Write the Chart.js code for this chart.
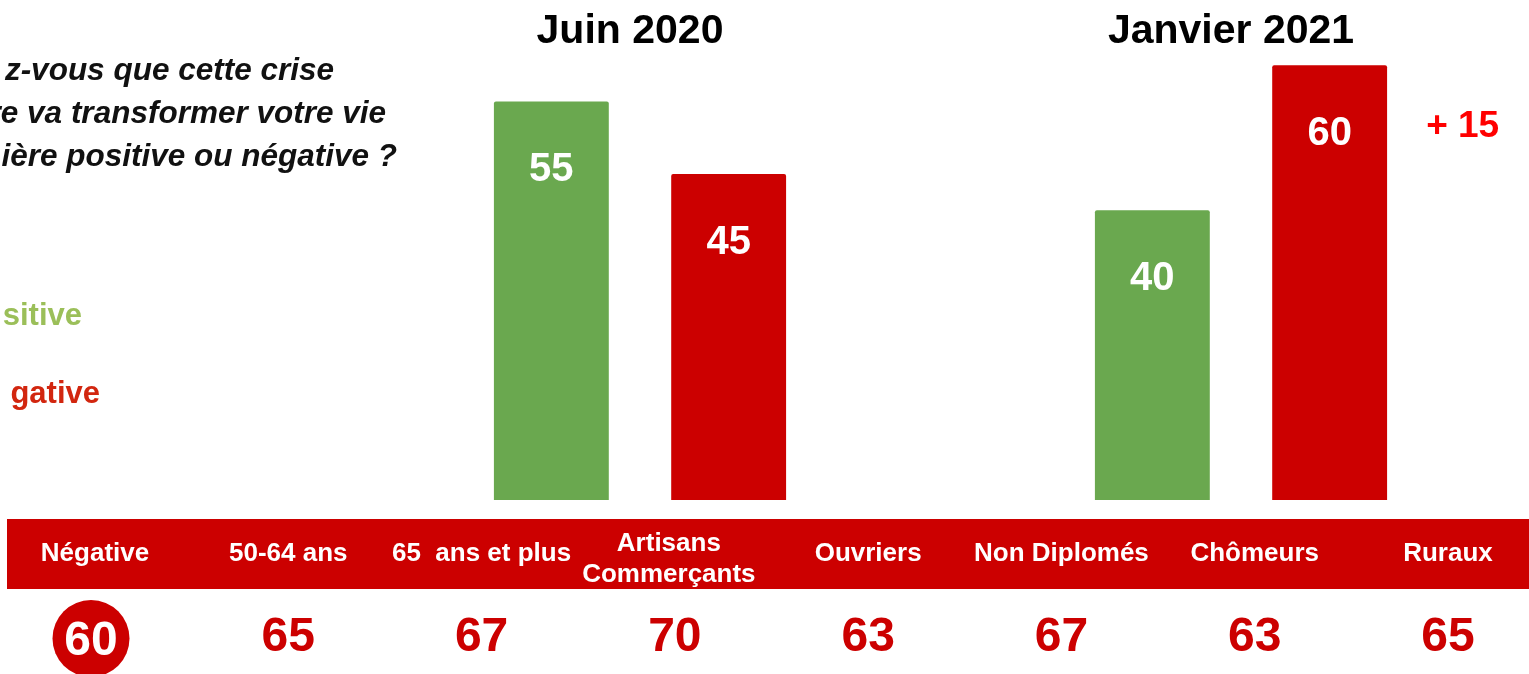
<!DOCTYPE html>
<html>
<head>
<meta charset="utf-8">
<script src="https://cdn.jsdelivr.net/npm/chart.js@4.4.0/dist/chart.umd.min.js"></script>
<style>
    body { margin: 0; background: #fff; width: 1529px; height: 674px; overflow: hidden; position: relative; }
    #top { position: absolute; left: 0; top: 0; }
    #bottom { position: absolute; left: 0; top: 510px; }
</style>
</head>
<body>
<canvas id="top" width="1529" height="510"></canvas>
<canvas id="bottom" width="1529" height="164"></canvas>
<script>
var FONT = '"Liberation Sans", Arial, sans-serif';

// data
var periods = ['Juin 2020', 'Janvier 2021'];
var positive = [55, 40];
var negative = [45, 60];

var groups = ['Négative', '50-64 ans', '65  ans et plus', ['Artisans', 'Commerçants'], 'Ouvriers', 'Non Diplomés', 'Chômeurs', 'Ruraux'];
var groupNeg = [60, 65, 67, 70, 63, 67, 63, 65];

var questionLines = ['z-vous que cette crise', 're va transformer votre vie', 'ière positive ou négative ?'];

var RED = '#cc0000';
var GREEN = '#6aa84f';

// titles, value labels, question and legend words on the top chart
var topTexts = {
    id: 'topTexts',
    afterDatasetsDraw: function(chart) {
        var ctx = chart.ctx;
        var x = chart.scales.x;
        ctx.save();
        ctx.textBaseline = 'alphabetic';

        ctx.fillStyle = '#000';
        ctx.textAlign = 'center';
        ctx.font = 'bold 41px ' + FONT;
        periods.forEach(function(p, i) {
            ctx.fillText(p, x.getPixelForValue(i) - 10, 43);
        });

        ctx.fillStyle = '#fff';
        ctx.font = 'bold 40px ' + FONT;
        chart.data.datasets.forEach(function(ds, di) {
            chart.getDatasetMeta(di).data.forEach(function(bar, i) {
                ctx.fillText(ds.data[i], bar.x, bar.y + 80);
            });
        });

        // change of the negative share between the two waves
        var last = chart.getDatasetMeta(1).data[1];
        ctx.fillStyle = '#ff0000';
        ctx.font = 'bold 37px ' + FONT;
        ctx.fillText('+ ' + (negative[1] - negative[0]), last.x + 133, last.y + 72);

        ctx.textAlign = 'right';
        ctx.fillStyle = '#111';
        ctx.font = 'italic bold 31.5px ' + FONT;
        var rights = [334, 386, 397];
        questionLines.forEach(function(t, i) {
            ctx.fillText(t, rights[i], 80 + i * 43);
        });

        ctx.font = 'bold 31px ' + FONT;
        ctx.fillStyle = '#9bbf59';
        ctx.fillText('sitive', 82, 325);
        ctx.fillStyle = '#d2260f';
        ctx.fillText('gative', 100, 403);
        ctx.restore();
    }
};

var topChart = new Chart(document.getElementById('top'), {
    type: 'bar',
    data: {
        labels: periods,
        datasets: [{
            label: 'Positive',
            data: positive,
            backgroundColor: GREEN,
            borderRadius: 2,
            borderSkipped: 'bottom',
            categoryPercentage: 0.59,
            barPercentage: 0.648,
            clip: false
        }, {
            label: 'Négative',
            data: negative,
            backgroundColor: RED,
            borderRadius: 2,
            borderSkipped: 'bottom',
            categoryPercentage: 0.59,
            barPercentage: 0.648,
            clip: false
        }]
    },
    options: {
        responsive: false,
        animation: false,
        events: [],
        layout: { padding: { left: 640, right: 288, top: 0, bottom: 10 } },
        plugins: { legend: { display: false }, tooltip: { enabled: false } },
        scales: {
            x: { display: false, offset: false },
            y: { display: false, min: 0, max: 69 }
        }
    },
    plugins: [topTexts]
});

// red band with the sub-groups and their negative share
var band = {
    id: 'band',
    afterDatasetsDraw: function(chart) {
        var ctx = chart.ctx;
        var x = chart.scales.x;
        ctx.save();
        ctx.fillStyle = RED;
        ctx.fillRect(7, 9, chart.width - 7, 70);

        ctx.textAlign = 'center';
        ctx.textBaseline = 'alphabetic';
        ctx.fillStyle = '#fff';
        ctx.font = 'bold 26px ' + FONT;
        groups.forEach(function(g, i) {
            var px = x.getPixelForValue(i);
            if (Array.isArray(g)) {
                ctx.fillText(g[0], px - 6, 41);
                ctx.fillText(g[1], px - 6, 72);
            } else {
                ctx.fillText(g, px, 51);
            }
        });

        ctx.font = 'bold 48px ' + FONT;
        chart.data.datasets[0].data.forEach(function(v, i) {
            var px = x.getPixelForValue(i);
            if (i === 0) {
                ctx.fillStyle = RED;
                ctx.beginPath();
                ctx.arc(px - 4, 128.5, 38.5, 0, Math.PI * 2);
                ctx.fill();
                ctx.fillStyle = '#fff';
                ctx.fillText(v, px - 4, 145);
            } else {
                ctx.fillStyle = RED;
                ctx.fillText(v, px, 141);
            }
        });
        ctx.restore();
    }
};

var bottomChart = new Chart(document.getElementById('bottom'), {
    type: 'line',
    data: {
        labels: groups,
        datasets: [{ data: groupNeg, showLine: false, pointRadius: 0 }]
    },
    options: {
        responsive: false,
        animation: false,
        events: [],
        layout: { padding: { left: 95, right: 81, top: 0, bottom: 0 } },
        plugins: { legend: { display: false }, tooltip: { enabled: false } },
        scales: {
            x: { display: false, offset: false },
            y: { display: false }
        }
    },
    plugins: [band]
});
</script>
</body>
</html>
